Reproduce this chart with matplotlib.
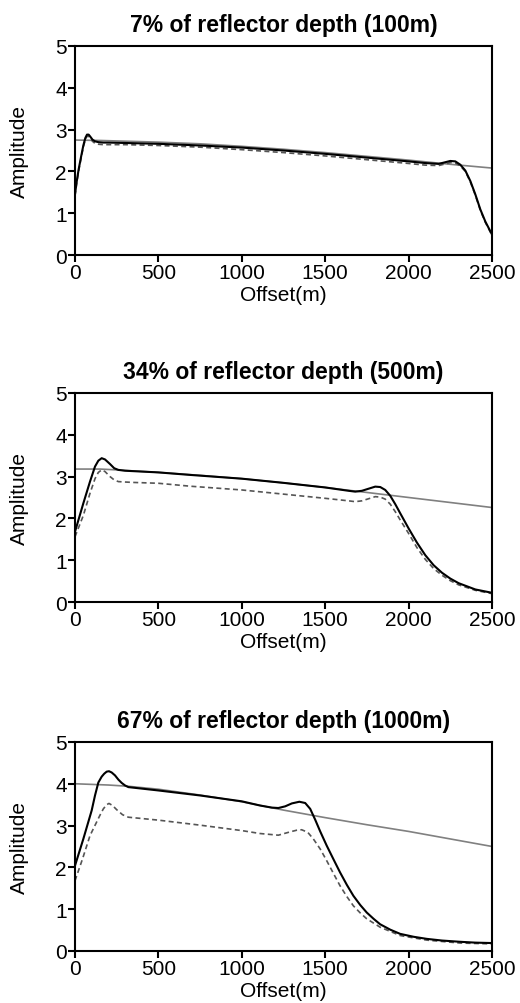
import numpy as np
import matplotlib
matplotlib.use('Agg')
import matplotlib.pyplot as plt

plt.rcParams['font.family'] = ['Liberation Sans', 'DejaVu Sans']

titles = ['7% of reflector depth (100m)',
          '34% of reflector depth (500m)',
          '67% of reflector depth (1000m)']

# panel 1 (100m)
off1 = [0, 10, 22, 36, 50, 62, 72, 82, 92, 105, 120, 140, 170, 200, 300, 500, 750, 1000,
        1250, 1500, 1750, 2000, 2100, 2180, 2220, 2250, 2280, 2310, 2340, 2370, 2400,
        2430, 2460, 2500]
solid1 = [1.45, 1.75, 2.05, 2.34, 2.62, 2.80, 2.88, 2.88, 2.83, 2.76, 2.72, 2.70, 2.69,
          2.69, 2.68, 2.66, 2.62, 2.57, 2.50, 2.42, 2.33, 2.24, 2.20, 2.18, 2.22, 2.25,
          2.24, 2.16, 2.02, 1.77, 1.45, 1.09, 0.80, 0.49]
dash1 = [1.42, 1.71, 2.01, 2.30, 2.58, 2.76, 2.84, 2.84, 2.79, 2.72, 2.67, 2.65, 2.64,
         2.64, 2.64, 2.62, 2.58, 2.52, 2.45, 2.37, 2.28, 2.19, 2.15, 2.14, 2.18, 2.21,
         2.20, 2.13, 2.00, 1.75, 1.43, 1.07, 0.78, 0.47]
goff1 = [0, 150, 500, 750, 1000, 1250, 1500, 1750, 2000, 2250, 2500]
gray1 = [2.75, 2.74, 2.70, 2.66, 2.60, 2.53, 2.45, 2.36, 2.27, 2.17, 2.08]

# panel 2 (500m)
off2 = [0, 50, 90, 120, 140, 160, 180, 210, 235, 260, 300, 350, 500, 690, 1000, 1250,
        1500, 1640, 1680, 1720, 1760, 1800, 1830, 1860, 1890, 1920, 1950, 2000, 2050,
        2100, 2150, 2200, 2250, 2300, 2400, 2500]
solid2 = [1.68, 2.36, 2.88, 3.24, 3.38, 3.44, 3.41, 3.30, 3.20, 3.16, 3.14, 3.13, 3.10,
          3.04, 2.95, 2.85, 2.74, 2.66, 2.64, 2.66, 2.71, 2.76, 2.75, 2.68, 2.54, 2.34,
          2.12, 1.76, 1.42, 1.12, 0.88, 0.70, 0.56, 0.45, 0.30, 0.22]
dash2 = [1.56, 2.07, 2.60, 2.95, 3.10, 3.16, 3.12, 3.00, 2.92, 2.88, 2.87, 2.86, 2.84,
         2.77, 2.68, 2.58, 2.48, 2.42, 2.40, 2.42, 2.47, 2.52, 2.51, 2.46, 2.34, 2.16,
         1.96, 1.64, 1.30, 1.02, 0.80, 0.64, 0.51, 0.41, 0.28, 0.20]
goff2 = [0, 150, 250, 500, 750, 1000, 1250, 1500, 1750, 2000, 2250, 2500]
gray2 = [3.18, 3.18, 3.16, 3.10, 3.03, 2.95, 2.85, 2.74, 2.62, 2.50, 2.38, 2.26]

# panel 3 (1000m)
off3 = [0, 50, 100, 120, 140, 160, 175, 190, 204, 220, 240, 260, 280, 300, 320, 500,
        750, 1000, 1109, 1180, 1219, 1260, 1300, 1345, 1380, 1410, 1440, 1470, 1509,
        1550, 1589, 1630, 1669, 1710, 1749, 1790, 1829, 1890, 1949, 2030, 2109, 2200,
        2309, 2400, 2500]
solid3 = [2.04, 2.68, 3.36, 3.72, 4.03, 4.17, 4.24, 4.29, 4.30, 4.27, 4.20, 4.10, 4.02,
          3.96, 3.92, 3.84, 3.72, 3.58, 3.48, 3.43, 3.42, 3.46, 3.53, 3.57, 3.54, 3.40,
          3.14, 2.86, 2.52, 2.19, 1.88, 1.58, 1.32, 1.10, 0.92, 0.77, 0.64, 0.51, 0.41,
          0.34, 0.29, 0.25, 0.22, 0.20, 0.19]
doff3 = [0, 45, 90, 150, 170, 190, 204, 225, 250, 285, 320, 500, 750, 1000, 1109, 1219,
         1290, 1330, 1359, 1395, 1429, 1470, 1509, 1550, 1589, 1630, 1669, 1710, 1749,
         1829, 1949, 2109, 2309, 2500]
dash3 = [1.68, 2.20, 2.76, 3.25, 3.40, 3.50, 3.53, 3.48, 3.38, 3.26, 3.20, 3.13, 3.01,
         2.88, 2.81, 2.77, 2.85, 2.89, 2.90, 2.84, 2.68, 2.44, 2.16, 1.85, 1.56, 1.30,
         1.08, 0.91, 0.77, 0.57, 0.37, 0.26, 0.19, 0.17]
goff3 = [0, 200, 320, 500, 750, 1000, 1250, 1500, 1750, 2000, 2250, 2500]
gray3 = [4.00, 3.97, 3.94, 3.87, 3.73, 3.57, 3.37, 3.19, 3.02, 2.86, 2.68, 2.50]

panels = [
    (off1, solid1, off1, dash1, goff1, gray1),
    (off2, solid2, off2, dash2, goff2, gray2),
    (off3, solid3, doff3, dash3, goff3, gray3),
]

fig = plt.figure(figsize=(5.2, 10.04), dpi=100)
bottoms = [0.745, 0.3994, 0.0518]

for i, (xs, ys, xd, yd, xg, yg) in enumerate(panels):
    ax = fig.add_axes([0.1442, bottoms[i], 0.802, 0.2082])
    ax.plot(xg, yg, color='#808080', lw=1.2)
    ax.plot(xd, yd, color='#555555', lw=1.2, ls=(0, (3, 2)))
    ax.plot(xs, ys, color='black', lw=1.5)
    ax.set_xlim(0, 2500)
    ax.set_ylim(0, 5)
    ax.set_xticks([0, 500, 1000, 1500, 2000, 2500])
    ax.set_yticks([0, 1, 2, 3, 4, 5])
    for s in ax.spines.values():
        s.set_linewidth(1.5)
    ax.tick_params(labelsize=15, length=5, width=1.5, pad=1)
    ax.set_title(titles[i], fontsize=16.5, fontweight='bold', pad=11)
    ax.set_xlabel('Offset(m)', fontsize=15, labelpad=2)
    ax.set_ylabel('Amplitude', fontsize=15)
    ax.yaxis.set_label_coords(-0.11, 0.5)

fig.savefig('out.png', dpi=100)
